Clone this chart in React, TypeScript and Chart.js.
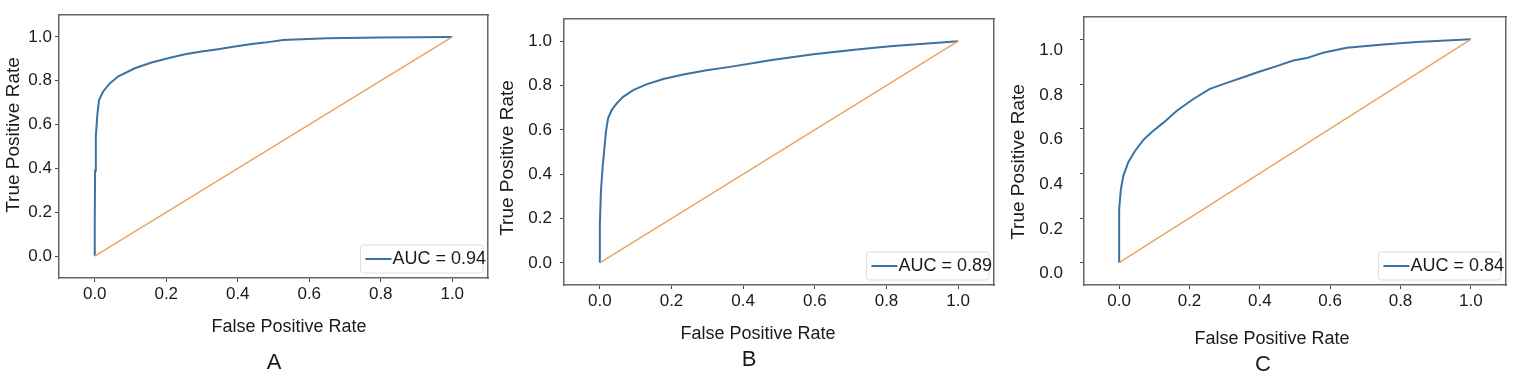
import React, { useEffect, useRef } from "react";
import { Chart, registerables } from "chart.js";

Chart.register(...registerables);

// ---------- data ----------
const tickValues = [0, 0.2, 0.4, 0.6, 0.8, 1.0];
const chanceFpr = [0, 1];
const chanceTpr = [0, 1];

const fprA = [0, 0, 0.001, 0.003, 0.0075, 0.012, 0.023, 0.042, 0.065, 0.112, 0.159, 0.205, 0.252, 0.299, 0.345, 0.392, 0.439, 0.476, 0.527, 0.649, 0.8, 1];
const tprA = [0, 0.164, 0.39, 0.545, 0.65, 0.712, 0.75, 0.788, 0.819, 0.857, 0.883, 0.903, 0.921, 0.933, 0.944, 0.956, 0.968, 0.974, 0.986, 0.994, 0.997, 1];

const fprB = [0, 0, 0.003, 0.0075, 0.011, 0.017, 0.023, 0.033, 0.047, 0.065, 0.093, 0.13, 0.177, 0.233, 0.298, 0.363, 0.438, 0.475, 0.596, 0.717, 0.81, 1];
const tprB = [0, 0.171, 0.321, 0.426, 0.486, 0.591, 0.652, 0.689, 0.719, 0.749, 0.779, 0.805, 0.829, 0.85, 0.869, 0.884, 0.904, 0.914, 0.941, 0.962, 0.977, 1];

const fprC = [0, 0, 0.005, 0.012, 0.026, 0.045, 0.069, 0.093, 0.126, 0.164, 0.211, 0.258, 0.306, 0.353, 0.4, 0.448, 0.495, 0.533, 0.58, 0.647, 0.751, 0.846, 1];
const tprC = [0, 0.24, 0.33, 0.39, 0.45, 0.5, 0.55, 0.585, 0.627, 0.68, 0.733, 0.778, 0.805, 0.83, 0.856, 0.88, 0.905, 0.916, 0.94, 0.962, 0.977, 0.988, 1];

const aucLabels = ["AUC = 0.94", "AUC = 0.89", "AUC = 0.84"];
const panelLetters = ["A", "B", "C"];
const xAxisTitle = "False Positive Rate";
const yAxisTitle = "True Positive Rate";

// ---------- style ----------
const FONT = "'Liberation Sans', Arial, Helvetica, sans-serif";
const BLUE = "#3c72a2";
const ORANGE = "#eaa45e";
const FRAME = "#666666";
const TEXT = "#1a1a1a";

const panels = [
  { left: 0, width: 495, yWidth: 59, rightPad: 7, top: 15, xHeight: 107, yPad: 3, yLabelOffset: 0,
    xT: [289, 327.5], yT: [14, 135], letter: [274, 362.5], fpr: fprA, tpr: tprA },
  { left: 495, width: 505, yWidth: 69, rightPad: 6, top: 19, xHeight: 100, yPad: 8, yLabelOffset: 0,
    xT: [263, 334.5], yT: [12.5, 158], letter: [254, 359.5], fpr: fprB, tpr: tprB },
  { left: 1000, width: 524, yWidth: 84, rightPad: 18, top: 17, xHeight: 100, yPad: 17, yLabelOffset: 11,
    xT: [272, 339.5], yT: [19, 162], letter: [263, 364.5], fpr: fprC, tpr: tprC },
];

const toPoints = (xs: number[], ys: number[]) => xs.map((x, i) => ({ x, y: ys[i] }));

const panelTextPlugin = {
  id: "panelText",
  afterDraw(chart: any, _args: any, opts: any) {
    const ctx = chart.ctx;
    ctx.save();
    ctx.fillStyle = TEXT;
    ctx.textAlign = "center";
    ctx.textBaseline = "middle";
    ctx.font = `18px ${FONT}`;
    ctx.fillText(opts.xTitle, opts.xT[0], opts.xT[1]);
    ctx.font = `22px ${FONT}`;
    ctx.fillText(opts.letter, opts.letterPos[0], opts.letterPos[1]);
    ctx.translate(opts.yT[0], opts.yT[1]);
    ctx.rotate(-Math.PI / 2);
    ctx.font = `19px ${FONT}`;
    ctx.fillText(opts.yTitle, 0, 0);
    ctx.restore();
  },
};

const insetLegendPlugin = {
  id: "insetLegend",
  afterDatasetsDraw(chart: any) {
    const ctx = chart.ctx;
    const ds = chart.data.datasets[0];
    const { right, bottom } = chart.chartArea;
    ctx.save();
    ctx.font = `18px ${FONT}`;
    const tw = ctx.measureText(ds.label).width;
    const textRight = right - 2;
    const textLeft = textRight - tw;
    const lineEnd = textLeft - 1;
    const lineStart = lineEnd - 26;
    const boxLeft = lineStart - 5;
    const boxRight = right - 5;
    const boxBottom = bottom - 5;
    const boxTop = boxBottom - 28;
    ctx.fillStyle = "rgba(255,255,255,0.85)";
    ctx.strokeStyle = "#dcdcdc";
    ctx.lineWidth = 1;
    ctx.beginPath();
    (ctx as any).roundRect(boxLeft, boxTop, boxRight - boxLeft, boxBottom - boxTop, 3);
    ctx.fill();
    ctx.stroke();
    const cy = (boxTop + boxBottom) / 2;
    ctx.strokeStyle = ds.borderColor;
    ctx.lineWidth = 2;
    ctx.beginPath();
    ctx.moveTo(lineStart, cy);
    ctx.lineTo(lineEnd, cy);
    ctx.stroke();
    ctx.fillStyle = TEXT;
    ctx.textAlign = "left";
    ctx.textBaseline = "middle";
    ctx.fillText(ds.label, textLeft, cy);
    ctx.restore();
  },
};

const zeroPad = (s: any) => {
  s.paddingTop = 0;
  s.paddingBottom = 0;
  s.paddingLeft = 0;
  s.paddingRight = 0;
};

function Panel({ idx }: { idx: number }) {
  const ref = useRef<HTMLCanvasElement | null>(null);
  const p = panels[idx];
  useEffect(() => {
    if (!ref.current) return;
    const tickFont = { family: FONT, size: 17 };
    const border = { display: true, color: FRAME, width: 1.5 };
    const chart = new Chart(ref.current, {
      type: "scatter",
      data: {
        datasets: [
          { label: aucLabels[idx], data: toPoints(p.fpr, p.tpr), showLine: true, borderColor: BLUE,
            backgroundColor: BLUE, borderWidth: 2, pointRadius: 0, order: 1 },
          { label: "chance", data: toPoints(chanceFpr, chanceTpr), showLine: true, borderColor: ORANGE,
            backgroundColor: ORANGE, borderWidth: 1.5, pointRadius: 0, order: 0 },
        ],
      },
      options: {
        animation: false,
        responsive: false,
        events: [],
        layout: { padding: { left: 0, top: p.top, right: p.rightPad, bottom: 0 } },
        plugins: {
          legend: { display: false },
          tooltip: { enabled: false },
          panelText: {
            xTitle: xAxisTitle, yTitle: yAxisTitle, letter: panelLetters[idx],
            xT: p.xT, yT: p.yT, letterPos: p.letter,
          },
        } as any,
        scales: {
          x: {
            type: "linear", position: "bottom", min: -0.1, max: 1.1,
            afterBuildTicks: (s: any) => { s.ticks = tickValues.map((v) => ({ value: v })); },
            afterFit: (s: any) => { s.height = p.xHeight; zeroPad(s); },
            ticks: { callback: (v: any) => Number(v).toFixed(1), font: tickFont, color: TEXT, padding: 2,
              maxRotation: 0, minRotation: 0, autoSkip: false },
            grid: { drawOnChartArea: false, drawTicks: true, tickLength: 4, color: "#444" },
            border,
          },
          y: {
            type: "linear", position: "left", min: -0.1, max: 1.1,
            afterBuildTicks: (s: any) => { s.ticks = tickValues.map((v) => ({ value: v })); },
            afterFit: (s: any) => { s.width = p.yWidth; zeroPad(s); },
            ticks: { callback: (v: any) => Number(v).toFixed(1), font: tickFont, color: TEXT, padding: p.yPad,
              labelOffset: p.yLabelOffset, autoSkip: false },
            grid: { drawOnChartArea: false, drawTicks: true, tickLength: 4, color: "#444" },
            border,
          },
          x2: {
            type: "linear", position: "top", min: -0.1, max: 1.1,
            ticks: { display: false },
            grid: { drawOnChartArea: false, drawTicks: false },
            afterFit: (s: any) => { s.height = 0; zeroPad(s); },
            border,
          },
          y2: {
            type: "linear", position: "right", min: -0.1, max: 1.1,
            ticks: { display: false },
            grid: { drawOnChartArea: false, drawTicks: false },
            afterFit: (s: any) => { s.width = 0; zeroPad(s); },
            border,
          },
        },
      } as any,
      plugins: [panelTextPlugin, insetLegendPlugin],
    });
    return () => chart.destroy();
  }, [idx]);
  return (
    <canvas
      ref={ref}
      width={p.width}
      height={385}
      style={{ position: "absolute", left: p.left, top: 0, width: p.width, height: 385 }}
    />
  );
}

export default function App() {
  return (
    <div style={{ position: "fixed", left: 0, top: 0, width: 1524, height: 385, background: "#ffffff", overflow: "hidden" }}>
      {panels.map((_, i) => (
        <Panel key={i} idx={i} />
      ))}
    </div>
  );
}
